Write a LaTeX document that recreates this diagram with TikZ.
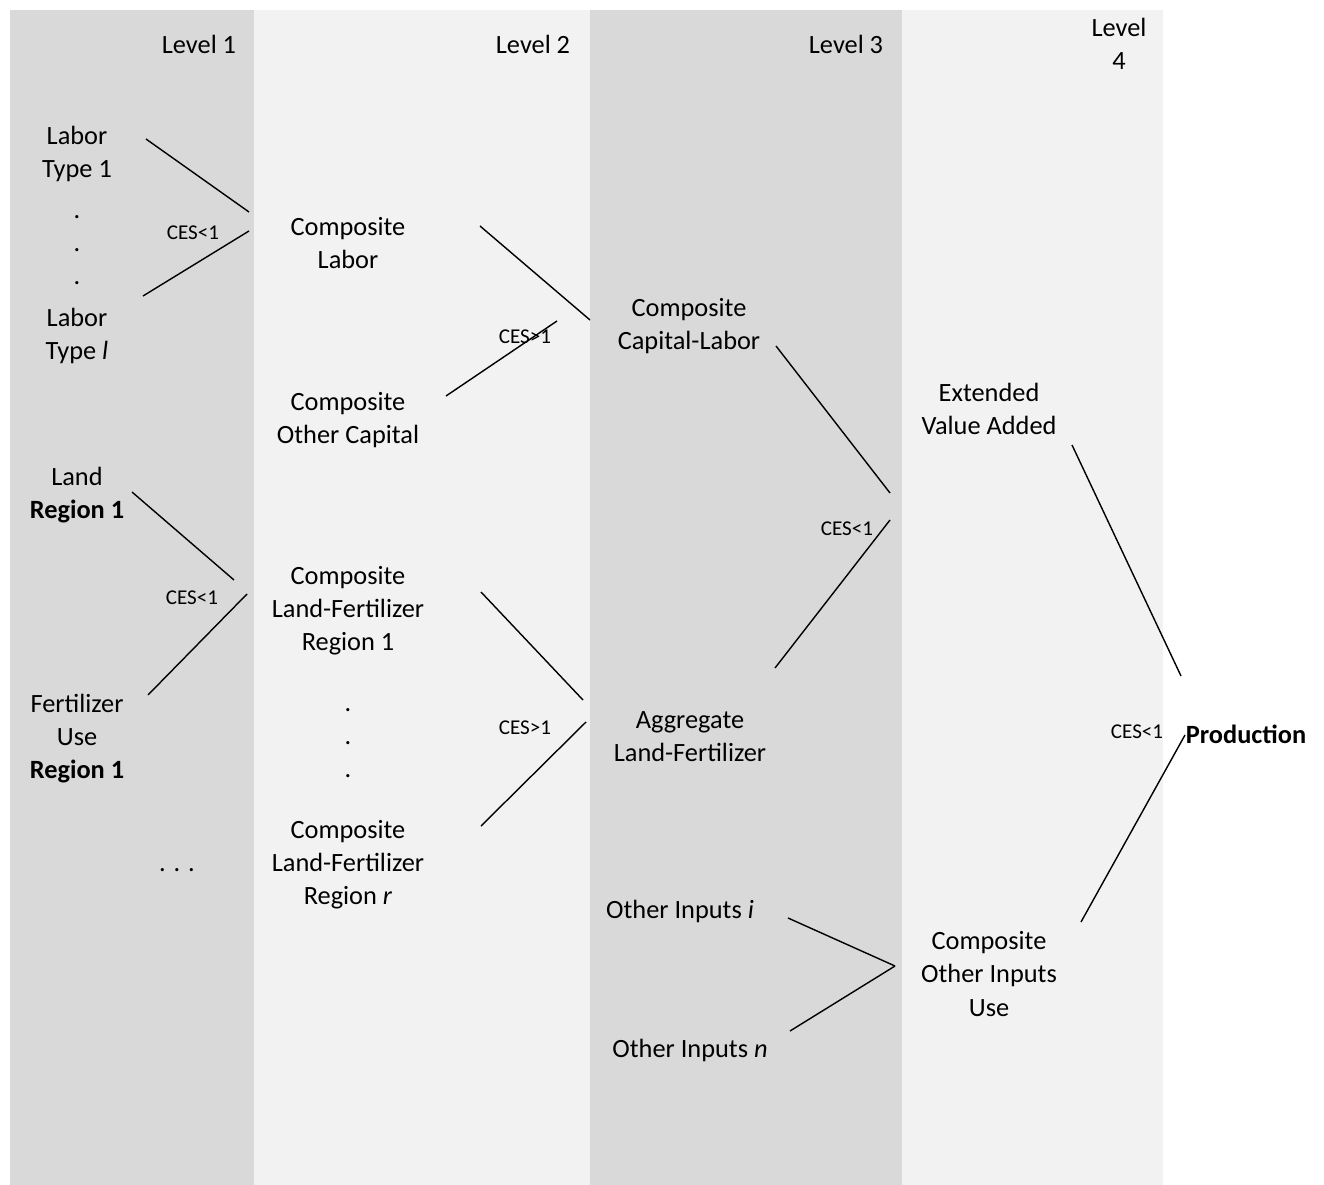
\documentclass[tikz,border=0pt]{standalone}
\usepackage{fontspec}
\setmainfont{Carlito}
\usepackage{tikz}
\definecolor{bandgray}{HTML}{D9D9D9}
\definecolor{bandlight}{HTML}{F2F2F2}

\begin{document}
\begin{tikzpicture}[x=0.02cm, y=-0.02cm,
    main/.style = {align=center, inner sep=0pt, font=\fontsize{15}{18.8}\selectfont},
    ces/.style = {inner sep=0pt, font=\fontsize{12}{14}\selectfont},
    link/.style = {draw, line width=0.8pt}]
    \useasboundingbox (0,0) rectangle (1324,1185);
    % level bands
    \fill[bandgray] (10,10) rectangle (254,1185);
    \fill[bandlight] (254,10) rectangle (590,1185);
    \fill[bandgray] (590,10) rectangle (902,1185);
    \fill[bandlight] (902,10) rectangle (1163,1185);
    \node[main] (lev1) at (199,44) {Level 1};
    \node[main] (lev2) at (533,44) {Level 2};
    \node[main] (lev3) at (846,44) {Level 3};
    \node[main] (lev4) at (1119,44) {Level\\4};
    % level 1
    \node[main] (lab1) at (77,153.5) {Labor\\Type 1};
    \node[main] (dots1) at (77,250) {.\\.\\.};
    \node[main] (labl) at (77,335.5) {Labor\\Type \textit{l}};
    \node[main] (land) at (77,495.5) {Land\\\textbf{Region 1}};
    \node[main] (fert) at (77,738.5) {Fertilizer\\Use\\\textbf{Region 1}};
    \node[main] (dots2) at (177,870) {. . .};
    % level 2
    \node[main] (cl) at (348,243) {Composite\\Labor};
    \node[main] (coc) at (348,420.5) {Composite\\Other Capital};
    \node[main] (clf1) at (348,611) {Composite\\Land-Fertilizer\\Region 1};
    \node[main] (dots3) at (348,743) {.\\.\\.};
    \node[main] (clfr) at (348,864.5) {Composite\\Land-Fertilizer\\Region \textit{r}};
    % level 3
    \node[main] (ccl) at (689,326.5) {Composite\\Capital-Labor};
    \node[main] (alf) at (690,736.5) {Aggregate\\Land-Fertilizer};
    \node[main] (oi) at (680,911) {Other Inputs \textit{i}};
    \node[main] (on) at (690,1050.5) {Other Inputs \textit{n}};
    % level 4
    \node[main] (eva) at (989,408.5) {Extended\\Value Added};
    \node[main] (coi) at (989,974) {Composite\\Other Inputs\\Use};
    \node[main, font=\fontsize{15}{18.8}\selectfont\bfseries] (prod) at (1246,734) {Production};
    % elasticities
    \node[ces] (ces1) at (193,233) {CES<1};
    \node[ces] (ces2) at (525,337) {CES>1};
    \node[ces] (ces3) at (192,598) {CES<1};
    \node[ces] (ces4) at (525,728) {CES>1};
    \node[ces] (ces5) at (847,529) {CES<1};
    \node[ces] (ces6) at (1137,732) {CES<1};
    % line ends
    \coordinate (lab1-r) at (146,139);
    \coordinate (labl-r) at (143,296);
    \coordinate (cl-a) at (249,212);
    \coordinate (cl-b) at (249,231);
    \coordinate (cl-r) at (480,226);
    \coordinate (coc-r) at (446,396);
    \coordinate (ccl-a) at (590,320);
    \coordinate (ccl-b) at (557,321);
    \coordinate (ccl-r) at (776,346);
    \coordinate (alf-r) at (775,668);
    \coordinate (eva-a) at (890,493);
    \coordinate (eva-b) at (890,520);
    \coordinate (eva-r) at (1072,445);
    \coordinate (coi-r) at (1081,922);
    \coordinate (prod-a) at (1181,676);
    \coordinate (prod-b) at (1185,735);
    \coordinate (land-r) at (132,492);
    \coordinate (fert-r) at (148,695);
    \coordinate (clf1-a) at (234,580);
    \coordinate (clf1-b) at (247,594);
    \coordinate (clf1-r) at (481,592);
    \coordinate (clfr-r) at (481,826);
    \coordinate (alf-a) at (583,700);
    \coordinate (alf-b) at (586,722);
    \coordinate (oi-r) at (788,918);
    \coordinate (on-r) at (790,1031);
    \coordinate (coi-a) at (895,966);
    % connectors
    \draw[link] (lab1-r) -- (cl-a);
    \draw[link] (labl-r) -- (cl-b);
    \draw[link] (cl-r) -- (ccl-a);
    \draw[link] (coc-r) -- (ccl-b);
    \draw[link] (ccl-r) -- (eva-a);
    \draw[link] (alf-r) -- (eva-b);
    \draw[link] (eva-r) -- (prod-a);
    \draw[link] (coi-r) -- (prod-b);
    \draw[link] (land-r) -- (clf1-a);
    \draw[link] (fert-r) -- (clf1-b);
    \draw[link] (clf1-r) -- (alf-a);
    \draw[link] (clfr-r) -- (alf-b);
    \draw[link] (oi-r) -- (coi-a);
    \draw[link] (on-r) -- (coi-a);
\end{tikzpicture}
\end{document}
